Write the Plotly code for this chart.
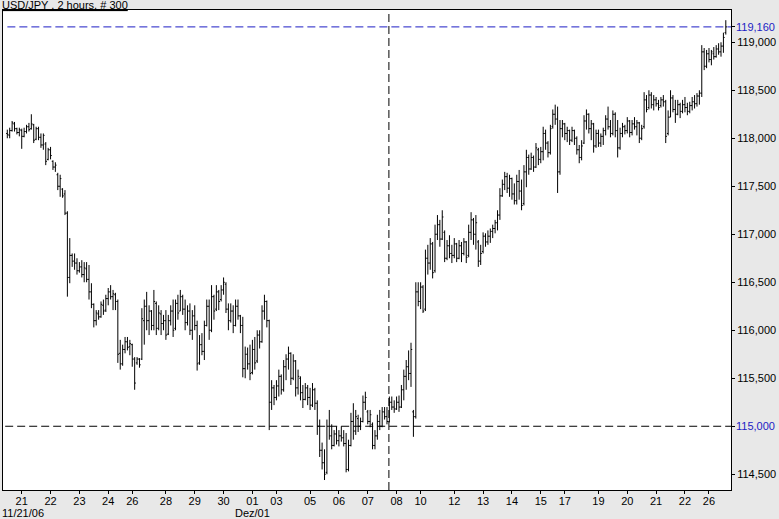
import plotly.graph_objects as go

# ---- data (USD/JPY, 2-hour bars, 300 bars) ----
opens = [
    118.05, 118.03, 118.08, 118.15, 118.10, 118.06, 118.08, 118.02, 118.07, 118.12,
    118.10, 118.14, 117.99, 118.10, 118.01, 117.93, 117.94, 117.78, 117.88, 117.76,
    117.70, 117.62, 117.50, 117.47, 117.42, 117.22, 116.55, 116.78, 116.72, 116.70,
    116.62, 116.66, 116.58, 116.64, 116.53, 116.40, 116.27, 116.10, 116.17, 116.14,
    116.26, 116.21, 116.33, 116.40, 116.35, 116.37, 116.30, 115.76, 115.65, 115.80,
    115.88, 115.83, 115.85, 115.70, 115.66, 115.70, 115.70, 116.10, 116.25, 116.10,
    116.20, 116.05, 116.28, 116.02, 116.17, 116.07, 116.10, 115.96, 116.10, 116.20,
    116.02, 116.28, 116.20, 116.35, 116.22, 116.08, 116.20, 116.00, 116.15, 116.05,
    115.66, 115.85, 115.78, 116.05, 116.25, 116.00, 116.35, 116.22, 116.40, 116.32,
    116.42, 116.48, 116.22, 116.10, 116.20, 116.05, 116.25, 116.15, 116.05, 115.60,
    115.75, 115.65, 115.56, 115.80, 115.68, 115.95, 115.88, 116.20, 116.30, 116.10,
    115.25, 115.40, 115.30, 115.42, 115.52, 115.38, 115.62, 115.70, 115.76, 115.50,
    115.68, 115.40, 115.50, 115.35, 115.28, 115.40, 115.30, 115.22, 115.38, 115.24,
    115.00, 114.75, 114.62, 114.52, 115.00, 114.90, 114.80, 114.92, 114.85, 114.90,
    114.88, 114.82, 114.55, 114.80, 115.05, 114.95, 115.08, 115.00, 115.05, 115.25,
    115.15, 115.05, 115.02, 114.80, 114.90, 115.05, 115.00, 115.15, 115.10, 115.05,
    115.25, 115.20, 115.18, 115.25, 115.20, 115.38, 115.52, 115.62, 115.55, 115.15,
    115.10, 116.40, 116.30, 116.45, 116.22, 116.75, 116.70, 116.90, 116.62, 117.00,
    117.10, 116.95, 117.02, 116.75, 116.88, 116.80, 116.78, 116.90, 116.75, 116.88,
    116.80, 116.92, 116.78, 117.02, 117.15, 117.00, 116.92, 116.72, 116.82, 116.98,
    116.92, 116.98, 117.03, 117.06, 117.12, 117.20, 117.40, 117.52, 117.60, 117.48,
    117.58, 117.42, 117.35, 117.55, 117.45, 117.32, 117.65, 117.80, 117.68, 117.80,
    117.70, 117.88, 117.78, 117.86, 118.05, 117.95, 117.85, 118.12, 118.25, 118.20,
    117.65, 118.10, 118.15, 118.05, 118.08, 117.98, 118.08, 118.00, 117.88, 117.80,
    117.95, 118.18, 118.25, 118.10, 118.15, 117.92, 118.05, 117.95, 118.02, 118.08,
    118.20, 118.12, 118.05, 118.25, 118.08, 117.90, 118.05, 118.12, 118.08, 118.18,
    118.06, 118.15, 118.12, 118.16, 118.00, 118.12, 118.40, 118.32, 118.45, 118.35,
    118.40, 118.36, 118.34, 118.40, 118.38, 118.05, 118.22, 118.42, 118.30, 118.25,
    118.35, 118.28, 118.35, 118.32, 118.28, 118.34, 118.38, 118.36, 118.44, 118.47,
    118.90, 118.75, 118.88, 118.82, 118.88, 118.85, 118.93, 118.90, 118.96, 119.10,
]
highs = [
    118.09, 118.11, 118.18, 118.17, 118.11, 118.11, 118.10, 118.11, 118.14, 118.16,
    118.25, 118.15, 118.12, 118.12, 118.05, 118.05, 117.96, 117.90, 117.91, 117.77,
    117.75, 117.64, 117.62, 117.48, 117.46, 117.24, 116.96, 116.80, 116.80, 116.75,
    116.71, 116.73, 116.71, 116.71, 116.68, 116.49, 116.28, 116.21, 116.21, 116.30,
    116.32, 116.37, 116.44, 116.47, 116.42, 116.39, 116.32, 115.90, 115.85, 115.93,
    115.93, 115.90, 115.86, 115.72, 115.72, 115.71, 116.23, 116.32, 116.40, 116.26,
    116.21, 116.42, 116.30, 116.26, 116.21, 116.16, 116.21, 116.16, 116.26, 116.32,
    116.32, 116.37, 116.42, 116.37, 116.32, 116.26, 116.28, 116.21, 116.26, 116.10,
    115.95, 115.97, 116.10, 116.32, 116.32, 116.47, 116.37, 116.47, 116.42, 116.47,
    116.55, 116.50, 116.28, 116.28, 116.26, 116.32, 116.32, 116.16, 116.14, 115.83,
    115.82, 115.85, 115.90, 115.93, 116.00, 116.00, 116.26, 116.37, 116.31, 116.11,
    115.48, 115.43, 115.48, 115.59, 115.54, 115.69, 115.75, 115.83, 115.77, 115.75,
    115.69, 115.59, 115.52, 115.43, 115.45, 115.43, 115.40, 115.45, 115.40, 115.27,
    115.07, 114.83, 114.76, 115.07, 115.17, 115.02, 114.96, 115.00, 114.96, 115.00,
    114.96, 114.93, 114.86, 115.14, 115.24, 115.17, 115.12, 115.09, 115.32, 115.36,
    115.17, 115.17, 115.04, 114.96, 115.12, 115.17, 115.20, 115.20, 115.20, 115.31,
    115.31, 115.27, 115.31, 115.32, 115.43, 115.59, 115.69, 115.79, 115.87, 115.17,
    116.50, 116.50, 116.50, 116.47, 116.84, 116.89, 116.96, 116.92, 117.10, 117.20,
    117.15, 117.25, 117.04, 116.94, 116.99, 116.89, 116.96, 116.91, 116.94, 116.92,
    116.96, 116.93, 117.10, 117.23, 117.17, 117.20, 116.94, 116.89, 117.02, 117.01,
    117.04, 117.06, 117.10, 117.15, 117.25, 117.48, 117.57, 117.65, 117.64, 117.62,
    117.59, 117.53, 117.62, 117.67, 117.57, 117.72, 117.88, 117.83, 117.85, 117.82,
    117.95, 117.90, 117.91, 118.12, 118.09, 117.97, 118.14, 118.30, 118.35, 118.33,
    118.19, 118.19, 118.16, 118.12, 118.09, 118.12, 118.09, 118.02, 117.93, 117.98,
    118.24, 118.30, 118.26, 118.19, 118.16, 118.09, 118.09, 118.05, 118.11, 118.24,
    118.33, 118.19, 118.29, 118.27, 118.19, 118.11, 118.16, 118.14, 118.22, 118.19,
    118.19, 118.22, 118.19, 118.17, 118.14, 118.48, 118.45, 118.50, 118.48, 118.45,
    118.43, 118.40, 118.43, 118.45, 118.40, 118.29, 118.50, 118.45, 118.40, 118.40,
    118.37, 118.40, 118.43, 118.37, 118.38, 118.43, 118.45, 118.47, 118.50, 118.97,
    118.94, 118.92, 118.94, 118.92, 118.95, 118.97, 118.99, 119.00, 119.10, 119.23,
]
lows = [
    118.00, 118.00, 118.07, 118.07, 118.04, 118.02, 117.89, 118.01, 118.05, 118.07,
    118.09, 117.95, 117.98, 117.98, 117.90, 117.88, 117.72, 117.77, 117.78, 117.67,
    117.65, 117.46, 117.39, 117.38, 117.20, 116.35, 116.49, 116.66, 116.63, 116.58,
    116.60, 116.55, 116.50, 116.50, 116.32, 116.23, 116.03, 116.05, 116.11, 116.13,
    116.16, 116.19, 116.26, 116.32, 116.21, 116.21, 115.66, 115.59, 115.63, 115.76,
    115.79, 115.74, 115.62, 115.38, 115.64, 115.61, 115.69, 115.85, 116.00, 115.95,
    116.00, 116.00, 115.95, 116.00, 115.95, 116.00, 115.90, 115.95, 116.05, 115.93,
    116.00, 116.11, 116.20, 116.16, 116.00, 116.05, 115.95, 115.90, 116.00, 115.58,
    115.64, 115.74, 115.69, 116.04, 115.90, 115.98, 116.11, 116.20, 116.21, 116.30,
    116.37, 116.18, 116.00, 116.08, 115.97, 116.04, 116.11, 115.97, 115.51, 115.50,
    115.59, 115.48, 115.54, 115.59, 115.66, 115.81, 115.87, 116.11, 116.03, 114.96,
    115.17, 115.22, 115.27, 115.31, 115.33, 115.36, 115.48, 115.59, 115.43, 115.48,
    115.31, 115.33, 115.27, 115.19, 115.27, 115.22, 115.17, 115.20, 115.17, 114.91,
    114.68, 114.55, 114.44, 114.50, 114.86, 114.76, 114.79, 114.81, 114.79, 114.84,
    114.79, 114.52, 114.53, 114.79, 114.86, 114.91, 114.94, 114.96, 115.04, 115.17,
    115.02, 114.99, 114.76, 114.76, 114.86, 114.96, 114.99, 115.07, 115.02, 115.04,
    115.17, 115.14, 115.17, 115.15, 115.19, 115.27, 115.38, 115.48, 115.41, 114.89,
    115.08, 116.25, 116.22, 116.18, 116.20, 116.58, 116.63, 116.54, 116.60, 116.94,
    116.87, 116.94, 116.71, 116.73, 116.75, 116.70, 116.75, 116.71, 116.74, 116.71,
    116.78, 116.70, 116.76, 116.94, 116.89, 116.84, 116.66, 116.68, 116.80, 116.87,
    116.89, 116.91, 116.96, 117.01, 117.04, 117.15, 117.39, 117.46, 117.43, 117.39,
    117.36, 117.31, 117.31, 117.36, 117.25, 117.30, 117.49, 117.62, 117.67, 117.65,
    117.69, 117.72, 117.74, 117.77, 117.88, 117.80, 117.83, 118.10, 118.14, 117.43,
    117.62, 118.01, 117.98, 117.96, 117.93, 117.96, 117.93, 117.83, 117.74, 117.77,
    117.94, 118.09, 118.05, 117.98, 117.85, 117.90, 117.91, 117.91, 117.93, 118.03,
    118.09, 118.01, 118.03, 118.01, 117.80, 117.88, 118.01, 118.04, 118.05, 118.01,
    118.03, 118.09, 118.03, 117.95, 117.98, 118.10, 118.27, 118.30, 118.31, 118.29,
    118.33, 118.29, 118.32, 118.33, 117.95, 118.03, 118.22, 118.27, 118.16, 118.24,
    118.21, 118.26, 118.27, 118.24, 118.26, 118.29, 118.31, 118.33, 118.35, 118.43,
    118.71, 118.73, 118.79, 118.76, 118.82, 118.84, 118.87, 118.85, 118.89, 119.08,
]
closes = [
    118.04, 118.08, 118.16, 118.10, 118.06, 118.09, 118.02, 118.07, 118.12, 118.09,
    118.15, 117.98, 118.10, 118.01, 117.93, 118.03, 117.76, 117.88, 117.82, 117.70,
    117.72, 117.50, 117.58, 117.40, 117.22, 116.55, 116.78, 116.72, 116.70, 116.62,
    116.66, 116.58, 116.65, 116.53, 116.40, 116.27, 116.10, 116.18, 116.14, 116.27,
    116.20, 116.33, 116.40, 116.35, 116.38, 116.30, 115.75, 115.65, 115.80, 115.88,
    115.82, 115.86, 115.70, 115.45, 115.70, 115.64, 116.12, 116.25, 116.10, 116.20,
    116.05, 116.30, 116.02, 116.18, 116.07, 116.10, 115.95, 116.10, 116.20, 116.00,
    116.28, 116.18, 116.35, 116.22, 116.08, 116.20, 116.00, 116.15, 116.05, 115.65,
    115.85, 115.78, 116.05, 116.25, 116.00, 116.35, 116.20, 116.40, 116.30, 116.42,
    116.50, 116.22, 116.10, 116.20, 116.05, 116.25, 116.15, 116.05, 115.60, 115.75,
    115.65, 115.55, 115.80, 115.66, 115.95, 115.88, 116.20, 116.30, 116.10, 115.25,
    115.40, 115.30, 115.42, 115.52, 115.38, 115.62, 115.70, 115.76, 115.50, 115.68,
    115.40, 115.52, 115.35, 115.28, 115.40, 115.30, 115.22, 115.38, 115.24, 115.00,
    114.75, 114.62, 114.50, 115.00, 114.90, 114.80, 114.92, 114.85, 114.90, 114.88,
    114.82, 114.55, 114.80, 115.05, 114.95, 115.10, 115.00, 115.05, 115.25, 115.30,
    115.05, 115.12, 114.80, 114.90, 115.05, 115.00, 115.15, 115.10, 115.05, 115.25,
    115.20, 115.18, 115.25, 115.20, 115.38, 115.52, 115.62, 115.55, 115.80, 115.10,
    116.40, 116.30, 116.45, 116.20, 116.75, 116.70, 116.90, 116.60, 117.00, 117.10,
    116.95, 117.18, 116.75, 116.88, 116.80, 116.78, 116.90, 116.75, 116.88, 116.80,
    116.92, 116.76, 117.02, 117.15, 117.00, 117.12, 116.72, 116.80, 116.98, 116.92,
    116.98, 117.03, 117.06, 117.12, 117.20, 117.40, 117.52, 117.60, 117.48, 117.58,
    117.42, 117.35, 117.55, 117.45, 117.30, 117.65, 117.80, 117.68, 117.80, 117.70,
    117.90, 117.78, 117.86, 118.05, 117.95, 117.85, 118.10, 118.25, 118.20, 117.65,
    118.10, 118.15, 118.05, 118.08, 117.98, 118.08, 118.00, 117.88, 117.80, 117.92,
    118.18, 118.25, 118.10, 118.15, 117.92, 118.05, 117.95, 118.02, 118.08, 118.20,
    118.12, 118.05, 118.25, 118.08, 117.90, 118.05, 118.12, 118.08, 118.18, 118.06,
    118.15, 118.12, 118.16, 118.00, 118.10, 118.40, 118.30, 118.45, 118.35, 118.40,
    118.36, 118.32, 118.40, 118.38, 118.02, 118.22, 118.42, 118.30, 118.25, 118.35,
    118.28, 118.35, 118.32, 118.28, 118.34, 118.38, 118.36, 118.44, 118.47, 118.90,
    118.75, 118.88, 118.82, 118.90, 118.85, 118.93, 118.90, 118.96, 119.05, 119.16,
]
bar_index = list(range(len(closes)))

day_tick_pos = [6, 18, 30, 42, 52, 66, 78, 90, 102, 112, 126, 138, 150, 162,
                172, 186, 198, 210, 222, 232, 246, 258, 270, 282, 292]
day_tick_text = ["21", "22", "23", "24", "26", "28", "29", "30", "01", "03", "05",
                 "06", "07", "08", "10", "12", "13", "14", "15", "17", "19", "20",
                 "21", "22", "26"]
price_ticks = [114.5, 115.0, 115.5, 116.0, 116.5, 117.0, 117.5, 118.0, 118.5, 119.0, 119.16]
price_tick_text = ["114,500", "", "115,500", "116,000", "116,500", "117,000",
                   "117,500", "118,000", "118,500", "119,000", ""]
last_price = 119.16
last_price_label = "119,160"
cross_price = 115.0
cross_price_label = "115,000"
cross_bar = 158.8
title_text = "USD/JPY , 2 hours, # 300"
date_start_label = "11/21/06"
month_label = "Dez/01"
month_label_bar = 102

FONT = "Arial, 'Liberation Sans', sans-serif"
BLUE = "#1c1cc4"

fig = go.Figure(go.Ohlc(
    x=bar_index, open=opens, high=highs, low=lows, close=closes,
    increasing=dict(line=dict(color="black", width=1)),
    decreasing=dict(line=dict(color="black", width=1)),
    tickwidth=0.5, hoverinfo="skip",
))

fig.update_layout(
    width=779, height=519,
    margin=dict(l=3, r=48, t=10, b=29),
    paper_bgcolor="#e8e8e8", plot_bgcolor="white",
    showlegend=False,
    font=dict(family=FONT, size=11, color="black"),
)
fig.update_xaxes(
    range=[-1.79, 301.16], tickmode="array", tickvals=day_tick_pos, ticktext=day_tick_text,
    ticks="outside", ticklen=3, tickcolor="black", tickwidth=1, ticklabelstandoff=-2,
    showline=True, linecolor="black", linewidth=1, mirror=True,
    showgrid=False, zeroline=False, rangeslider=dict(visible=False),
    tickfont=dict(family=FONT, size=11, color="black"),
)
fig.update_yaxes(
    side="right", range=[114.336, 119.336], tickmode="array",
    tickvals=price_ticks, ticktext=price_tick_text,
    ticks="outside", ticklen=3, tickcolor="black", tickwidth=1,
    showline=True, linecolor="black", linewidth=1, mirror=True,
    showgrid=False, zeroline=False,
    tickfont=dict(family=FONT, size=11, color="black"),
)

fig.add_shape(type="line", xref="paper", yref="y", x0=0.006, x1=1, y0=last_price, y1=last_price,
              line=dict(color=BLUE, width=1, dash="8px,4px"))
fig.add_shape(type="line", xref="paper", yref="y", x0=0.003, x1=1, y0=cross_price, y1=cross_price,
              line=dict(color="black", width=1, dash="8px,4px"))
fig.add_shape(type="line", xref="x", yref="paper", x0=cross_bar, x1=cross_bar, y0=0, y1=1,
              line=dict(color="black", width=1, dash="8px,4px"))

fig.add_annotation(text="<u>" + title_text + "</u>", xref="paper", yref="paper", x=0, y=1,
                   xanchor="left", yanchor="bottom", xshift=-2, yshift=-2, borderpad=0,
                   showarrow=False, font=dict(family=FONT, size=11, color="black"))
fig.add_annotation(text=last_price_label, xref="paper", yref="y", x=1, y=last_price,
                   xanchor="left", yanchor="middle", xshift=3, showarrow=False,
                   font=dict(family=FONT, size=11, color=BLUE))
fig.add_annotation(text=cross_price_label, xref="paper", yref="y", x=1, y=cross_price,
                   xanchor="left", yanchor="middle", xshift=3, showarrow=False,
                   font=dict(family=FONT, size=11, color=BLUE))
fig.add_annotation(text=date_start_label, xref="paper", yref="paper", x=0, y=0,
                   xanchor="left", yanchor="top", xshift=-2, yshift=-16, borderpad=0,
                   showarrow=False, font=dict(family=FONT, size=11, color="black"))
fig.add_annotation(text=month_label, xref="x", yref="paper", x=month_label_bar, y=0,
                   xanchor="center", yanchor="top", yshift=-16, borderpad=0,
                   showarrow=False, font=dict(family=FONT, size=11, color="black"))

fig.write_html(
    "out.html",
    config={"displayModeBar": False},
    post_script="document.body.style.margin='0';document.body.style.padding='0';"
                "document.body.style.overflow='hidden';",
)
